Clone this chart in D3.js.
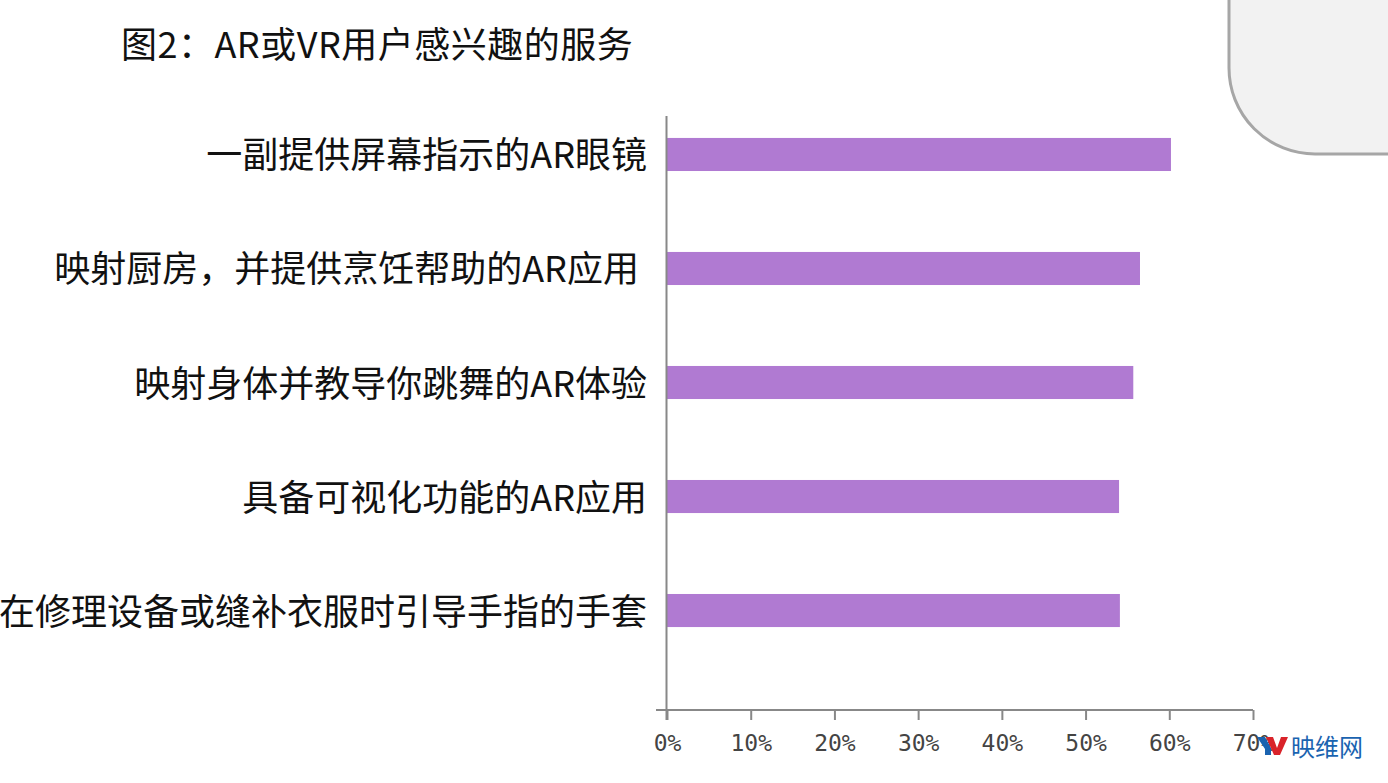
<!DOCTYPE html>
<html><head><meta charset="utf-8">
<script src="https://cdn.jsdelivr.net/npm/d3@7"></script>
<style>
html,body{margin:0;padding:0;background:#fff;}
svg{display:block;}
</style></head>
<body>
<svg id="chart" width="1388" height="783"></svg>
<script>
const title = "图2：AR或VR用户感兴趣的服务";
const categories = [
  "一副提供屏幕指示的AR眼镜",
  "映射厨房，并提供烹饪帮助的AR应用 ",
  "映射身体并教导你跳舞的AR体验",
  "具备可视化功能的AR应用",
  "在修理设备或缝补衣服时引导手指的手套"
];
const values = [0.602, 0.565, 0.557, 0.540, 0.541];
const tickValues = [0, 0.1, 0.2, 0.3, 0.4, 0.5, 0.6, 0.7];
const tickLabels = ["0%","10%","20%","30%","40%","50%","60%","70%"];

const svg = d3.select("#chart");
const cjk = "'Noto Sans CJK SC','Noto Sans',sans-serif";

// decorative rounded panel at top right
svg.append("rect")
  .attr("x", 1229).attr("y", -120).attr("width", 300).attr("height", 274)
  .attr("rx", 86).attr("ry", 86)
  .attr("fill", "#f2f2f2").attr("stroke", "#a6a6a6").attr("stroke-width", 3);

// title
svg.append("text")
  .attr("x", 121).attr("y", 58)
  .attr("font-family", cjk).attr("font-size", 36).attr("fill", "#111")
  .style("letter-spacing", "0.5px")
  .text(title);

const x = d3.scaleLinear().domain([0, 0.7]).range([667, 1253]);
const y = d3.scaleBand().domain(categories).range([57, 708]).padding(0.71);

// bars
svg.append("g").selectAll("rect").data(categories).join("rect")
  .attr("x", x(0))
  .attr("y", d => y(d))
  .attr("width", (d, i) => x(values[i]) - x(0))
  .attr("height", y.bandwidth())
  .attr("fill", "#b07ad2");

// category labels
svg.append("g").selectAll("text").data(categories).join("text")
  .attr("x", 647)
  .attr("y", d => y(d) + y.bandwidth() / 2 - 2)
  .attr("text-anchor", "end")
  .attr("dominant-baseline", "central")
  .attr("font-family", cjk).attr("font-size", 36).attr("fill", "#111")
  .style("white-space", "pre")
  .text(d => d);

// y axis line
svg.append("line")
  .attr("x1", 666.5).attr("x2", 666.5).attr("y1", 116).attr("y2", 720)
  .attr("stroke", "#888").attr("stroke-width", 2);

// x axis
const xAxis = d3.axisBottom(x).tickValues(tickValues)
  .tickFormat((d, i) => tickLabels[i]).tickSize(10).tickSizeOuter(0).tickPadding(0);
const gx = svg.append("g").attr("transform", "translate(0,710)").call(xAxis);
gx.select(".domain").attr("stroke", "#888").attr("stroke-width", 2)
  .attr("d", `M656,0H${x(0.7)}`);
gx.selectAll(".tick line").attr("stroke", "#888").attr("stroke-width", 2);
gx.selectAll(".tick text")
  .attr("font-family", "'DejaVu Sans Mono',monospace")
  .attr("font-size", 23).attr("fill", "#444")
  .attr("y", 41).attr("dy", 0);

// watermark
const wm = svg.append("g").attr("transform", "translate(1257,737)");
wm.append("path").attr("d", "M0,0 L8,0 L14,11 L14,18 L8,18 L8,12 Z").attr("fill", "#1a63b0");
wm.append("path").attr("d", "M9,0 L16,0 L20,11 L24,0 L31,0 L23,18 L17,18 Z").attr("fill", "#d9232a");
svg.append("text").attr("x", 1291).attr("y", 756)
  .attr("font-family", cjk).attr("font-size", 24).attr("fill", "#1a63b0")
  .text("映维网");
</script>
</body></html>
